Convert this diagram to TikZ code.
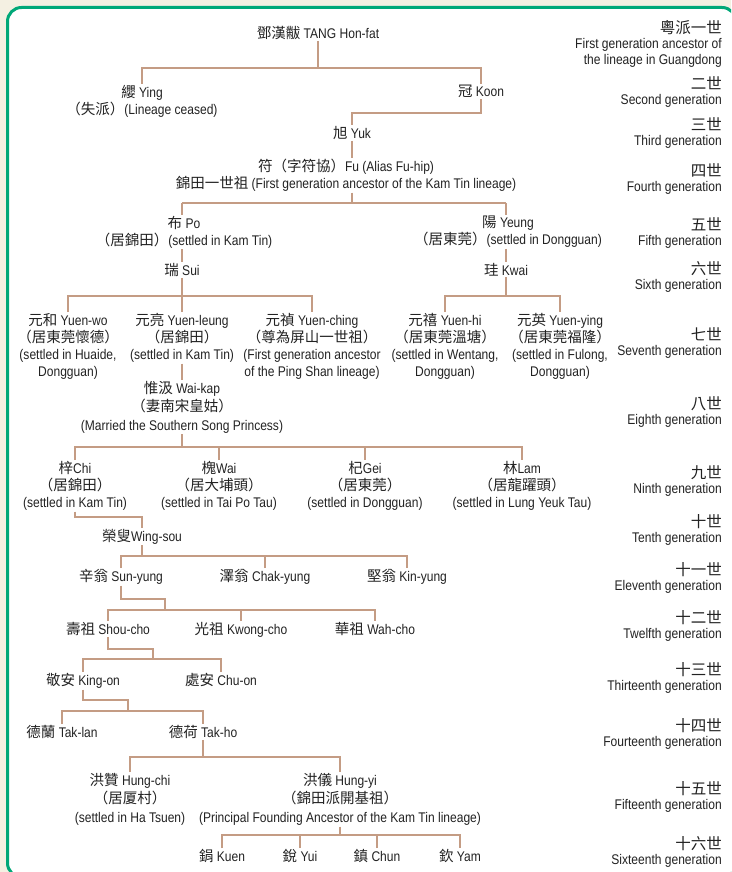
\documentclass[tikz,border=0pt]{standalone}
\usepackage{fontspec}
\setmainfont{Liberation Sans}[FakeStretch=0.86]
\newfontfamily\cjk{Noto Sans CJK TC}
\definecolor{bgcream}{HTML}{F4F0E2}
\definecolor{framegreen}{HTML}{00A878}
\definecolor{linetan}{HTML}{C49C84}
\definecolor{inkc}{HTML}{222222}
\newcommand{\Z}[1]{{\cjk\fontsize{14.5}{17}\selectfont #1}}
\newcommand{\G}[1]{{\cjk\fontsize{15.5}{17}\selectfont #1}}
\begin{document}
\begin{tikzpicture}[x=1pt,y=-1pt,
  person/.style={anchor=north, align=center, inner sep=1pt, text=inkc, font=\fontsize{14}{17}\selectfont},
  tallperson/.style={person, font=\fontsize{14}{18.5}\selectfont},
  gen/.style={anchor=north east, align=right, inner sep=0pt, text=inkc, font=\fontsize{14}{15.5}\selectfont},
  conn/.style={draw=linetan, line width=2pt}]
\clip (0,0) rectangle (731,872);
\fill[bgcream] (0,0) rectangle (731,872);
\draw[framegreen, line width=3pt, fill=white, rounded corners=14pt] (7.5,7.5) rectangle (736,877);

% ---------- people ----------
\node[person] (tang) at (318,25) {\Z{鄧漢黻} TANG Hon-fat};
\node[person] (ying) at (142,84) {\Z{纓} Ying\\\Z{（失派）}(Lineage ceased)};
\node[person] (koon) at (481,84) {\Z{冠} Koon};
\node[person] (yuk) at (352,125) {\Z{旭} Yuk};
\node[person] (fu) at (346,158) {\Z{符（字符協）}Fu (Alias Fu-hip)\\\Z{錦田一世祖} (First generation ancestor of the Kam Tin lineage)};
\node[person] (po) at (184,215) {\Z{布} Po\\\Z{（居錦田）}(settled in Kam Tin)};
\node[person] (yeung) at (508,215) {\Z{陽} Yeung\\\Z{（居東莞）}(settled in Dongguan)};
\node[person] (sui) at (182,262) {\Z{瑞} Sui};
\node[person] (kwai) at (506,262) {\Z{珪} Kwai};
\node[person] (yuenwo) at (68,312) {\Z{元和} Yuen-wo\\\Z{（居東莞懷德）}\\(settled in Huaide,\\Dongguan)};
\node[person] (yuenleung) at (182,312) {\Z{元亮} Yuen-leung\\\Z{（居錦田）}\\(settled in Kam Tin)};
\node[person] (yuenching) at (312,312) {\Z{元禎} Yuen-ching\\\Z{（尊為屏山一世祖）}\\(First generation ancestor\\of the Ping Shan lineage)};
\node[person] (yuenhi) at (445,312) {\Z{元禧} Yuen-hi\\\Z{（居東莞溫塘）}\\(settled in Wentang,\\Dongguan)};
\node[person] (yuenying) at (560,312) {\Z{元英} Yuen-ying\\\Z{（居東莞福隆）}\\(settled in Fulong,\\Dongguan)};
\node[tallperson] (waikap) at (182,380) {\Z{惟汲} Wai-kap\\\Z{（妻南宋皇姑）}\\(Married the Southern Song Princess)};
\node[person] (chi) at (75,460) {\Z{梓}Chi\\\Z{（居錦田）}\\(settled in Kam Tin)};
\node[person] (wai) at (219,460) {\Z{槐}Wai\\\Z{（居大埔頭）}\\(settled in Tai Po Tau)};
\node[person] (gei) at (365,460) {\Z{杞}Gei\\\Z{（居東莞）}\\(settled in Dongguan)};
\node[person] (lam) at (522,460) {\Z{林}Lam\\\Z{（居龍躍頭）}\\(settled in Lung Yeuk Tau)};
\node[person] (wingsou) at (142,528) {\Z{榮叟}Wing-sou};
\node[person] (sunyung) at (121,568) {\Z{辛翁} Sun-yung};
\node[person] (chakyung) at (265,568) {\Z{澤翁} Chak-yung};
\node[person] (kinyung) at (407,568) {\Z{堅翁} Kin-yung};
\node[person] (shoucho) at (108,621) {\Z{壽祖} Shou-cho};
\node[person] (kwongcho) at (241,621) {\Z{光祖} Kwong-cho};
\node[person] (wahcho) at (375,621) {\Z{華祖} Wah-cho};
\node[person] (kingon) at (83,672) {\Z{敬安} King-on};
\node[person] (chuon) at (221,672) {\Z{處安} Chu-on};
\node[person] (taklan) at (62,724) {\Z{德蘭} Tak-lan};
\node[person] (takho) at (203,724) {\Z{德荷} Tak-ho};
\node[tallperson] (hungchi) at (130,772) {\Z{洪贊} Hung-chi\\\Z{（居厦村）}\\(settled in Ha Tsuen)};
\node[tallperson] (hungyi) at (340,772) {\Z{洪儀} Hung-yi\\\Z{（錦田派開基祖）}\\(Principal Founding Ancestor of the Kam Tin lineage)};
\node[person] (kuen) at (222,848) {\Z{鋗} Kuen};
\node[person] (yui) at (300,848) {\Z{銳} Yui};
\node[person] (chun) at (377,848) {\Z{鎮} Chun};
\node[person] (yam) at (460,848) {\Z{欽} Yam};

% ---------- connectors ----------
\coordinate (b1) at (0,68);
\draw[conn] (tang.south) -- (tang.south |- b1);
\draw[conn] (ying.north) |- (koon.north |- b1) -- (koon.north);
\coordinate (b2) at (0,113);
\draw[conn] (koon.south) |- (yuk.north |- b2) -- (yuk.north);
\draw[conn] (yuk.south) -- (yuk.south |- fu.north);
\coordinate (b3) at (0,203);
\draw[conn] (yuk.south |- fu.south) -- (yuk.south |- b3);
\draw[conn] (sui.north |- b3) -| (kwai.north |- b3) ;
\draw[conn] (sui.north |- b3) -- (sui.north |- po.north);
\draw[conn] (kwai.north |- b3) -- (kwai.north |- yeung.north);
\draw[conn] (sui.north |- po.south) -- (sui.north);
\draw[conn] (kwai.north |- yeung.south) -- (kwai.north);
\coordinate (b4) at (0,296);
\draw[conn] (sui.south) -- (sui.south |- b4);
\draw[conn] (yuenwo.north) |- (yuenching.north |- b4) -- (yuenching.north);
\draw[conn] (yuenleung.north) -- (yuenleung.north |- b4);
\draw[conn] (kwai.south) -- (kwai.south |- b4);
\draw[conn] (yuenhi.north) |- (yuenying.north |- b4) -- (yuenying.north);
\draw[conn] (yuenleung.south) -- (waikap.north);
\coordinate (b5) at (0,447);
\draw[conn] (waikap.south) -- (waikap.south |- b5);
\draw[conn] (chi.north) |- (lam.north |- b5) -- (lam.north);
\draw[conn] (wai.north) -- (wai.north |- b5);
\draw[conn] (gei.north) -- (gei.north |- b5);
\coordinate (b6) at (0,517);
\draw[conn] (chi.south) |- (wingsou.north |- b6) -- (wingsou.north);
\coordinate (b7) at (0,556);
\draw[conn] (wingsou.south) -- (wingsou.south |- b7);
\draw[conn] (sunyung.north) |- (kinyung.north |- b7) -- (kinyung.north);
\draw[conn] (chakyung.north) -- (chakyung.north |- b7);
\coordinate (j8) at (165,599);
\coordinate (b8) at (0,610);
\draw[conn] (sunyung.south) |- (j8) -- (j8 |- b8);
\draw[conn] (shoucho.north) |- (wahcho.north |- b8) -- (wahcho.north);
\draw[conn] (kwongcho.north) -- (kwongcho.north |- b8);
\coordinate (j9) at (153,649);
\coordinate (b9) at (0,659);
\draw[conn] (shoucho.south) |- (j9) -- (j9 |- b9);
\draw[conn] (kingon.north) |- (chuon.north |- b9) -- (chuon.north);
\coordinate (j10) at (128,700);
\coordinate (b10) at (0,711);
\draw[conn] (kingon.south) |- (j10) -- (j10 |- b10);
\draw[conn] (taklan.north) |- (takho.north |- b10) -- (takho.north);
\coordinate (b11) at (0,757);
\draw[conn] (takho.south) -- (takho.south |- b11);
\draw[conn] (hungchi.north) |- (hungyi.north |- b11) -- (hungyi.north);
\coordinate (b12) at (0,835);
\draw[conn] (hungyi.south) -- (hungyi.south |- b12);
\draw[conn] (kuen.north) |- (yam.north |- b12) -- (yam.north);
\draw[conn] (yui.north) -- (yui.north |- b12);
\draw[conn] (chun.north) -- (chun.north |- b12);

% ---------- generation labels ----------
\node[gen] (g1) at (722,20) {\G{粵派一世}\\First generation ancestor of\\the lineage in Guangdong};
\node[gen] (g2) at (722,76) {\G{二世}\\Second generation};
\node[gen] (g3) at (722,117) {\G{三世}\\Third generation};
\node[gen] (g4) at (722,163) {\G{四世}\\Fourth generation};
\node[gen] (g5) at (722,217) {\G{五世}\\Fifth generation};
\node[gen] (g6) at (722,261) {\G{六世}\\Sixth generation};
\node[gen] (g7) at (722,327) {\G{七世}\\Seventh generation};
\node[gen] (g8) at (722,396) {\G{八世}\\Eighth generation};
\node[gen] (g9) at (722,465) {\G{九世}\\Ninth generation};
\node[gen] (g10) at (722,514) {\G{十世}\\Tenth generation};
\node[gen] (g11) at (722,562) {\G{十一世}\\Eleventh generation};
\node[gen] (g12) at (722,610) {\G{十二世}\\Twelfth generation};
\node[gen] (g13) at (722,662) {\G{十三世}\\Thirteenth generation};
\node[gen] (g14) at (722,718) {\G{十四世}\\Fourteenth generation};
\node[gen] (g15) at (722,781) {\G{十五世}\\Fifteenth generation};
\node[gen] (g16) at (722,836) {\G{十六世}\\Sixteenth generation};
\end{tikzpicture}
\end{document}
